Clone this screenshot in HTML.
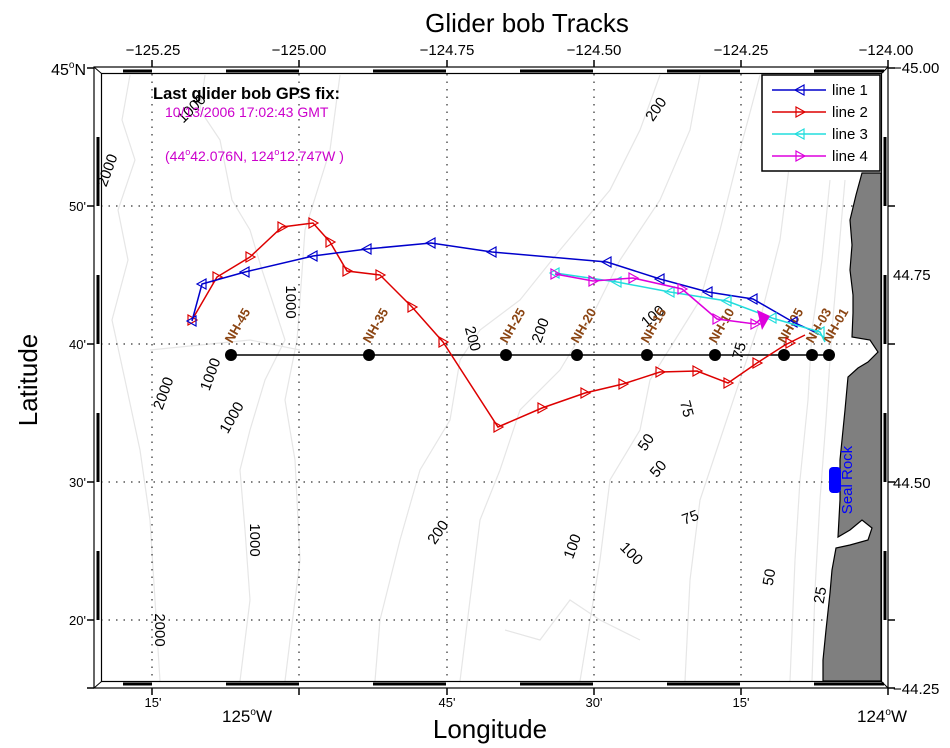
<!DOCTYPE html>
<html><head><meta charset="utf-8"><style>
html,body{margin:0;padding:0;background:#fff}
svg{display:block;font-family:"Liberation Sans",Arial,sans-serif}
</style></head><body>
<svg width="950" height="748" viewBox="0 0 950 748" xmlns="http://www.w3.org/2000/svg">
<rect width="950" height="748" fill="#fff"/>
<!-- contours -->
<g fill="none" stroke="#e6e6e6" stroke-width="1.2">
<path d="M130,75 L122,120 L135,160 L118,210 L128,260 L112,320 L125,380 L140,450 L150,520 L155,600 L160,681"/>
<path d="M205,75 L200,110 L220,140 L232,200 L250,230 L262,270 L272,300 L285,340 L265,380 L250,430 L240,470 L245,530 L250,600 L240,681"/>
<path d="M340,75 L330,150 L305,230 L300,300 L297,340 L285,400 L295,460 L300,560 L285,681"/>
<path d="M150,350 L200,345 L250,340 L300,350"/>
<path d="M660,75 L640,130 L610,190 L560,250 L520,300 L480,330 L460,360 L450,420 L420,470 L400,540 L380,620 L375,681"/>
<path d="M700,75 L690,130 L660,200 L620,260 L590,320 L560,370 L520,410 L500,470 L480,520 L470,600 L460,681"/>
<path d="M760,75 L740,150 L720,230 L700,300 L650,380 L640,430 L610,480 L600,560 L580,681"/>
<path d="M800,80 L790,160 L780,240 L760,320 L740,380 L720,440 L700,500 L690,580 L685,681"/>
<path d="M830,180 L822,260 L812,330 L808,400 L800,480 L795,560 L790,681"/>
<path d="M845,180 L838,260 L832,330 L826,420 L820,500 L815,590 L812,681"/>
<path d="M505,630 L540,640 L570,600 L600,620 L640,640"/>
</g>
<!-- grid -->
<g stroke="#000" stroke-width="1" stroke-dasharray="1.5,6">
<line x1="152" y1="74" x2="152" y2="681"/><line x1="299" y1="74" x2="299" y2="681"/>
<line x1="447" y1="74" x2="447" y2="681"/><line x1="594" y1="74" x2="594" y2="681"/>
<line x1="741" y1="74" x2="741" y2="681"/>
<line x1="101" y1="206" x2="881" y2="206"/><line x1="101" y1="344" x2="881" y2="344"/>
<line x1="101" y1="482" x2="881" y2="482"/><line x1="101" y1="620" x2="881" y2="620"/>
</g>
<!-- land -->
<path d="M862,173 L856,195 L850,220 L852,245 L850,270 L853,295 L853,313 L852,337 L870,340 L878,352 L868,362 L858,368 L848,377 L845,410 L842,440 L840,460 L840,500 L838,537 L850,530 L862,520 L872,528 L868,540 L850,545 L836,548 L832,570 L830,593 L826,630 L823,660 L823,681 L881,681 L881,173 Z" fill="#7f7f7f" stroke="#000" stroke-width="1.2"/>
<!-- contour labels -->
<g font-size="15" fill="#000">
<text transform="translate(112,172) rotate(-70)" text-anchor="middle">2000</text>
<text transform="translate(195,112) rotate(-45)" text-anchor="middle">1000</text>
<text transform="translate(660,112) rotate(-55)" text-anchor="middle">200</text>
<text transform="translate(286,302) rotate(90)" text-anchor="middle">1000</text>
<text transform="translate(168,395) rotate(-70)" text-anchor="middle">2000</text>
<text transform="translate(215,376) rotate(-70)" text-anchor="middle">1000</text>
<text transform="translate(236,420) rotate(-60)" text-anchor="middle">1000</text>
<text transform="translate(468,340) rotate(75)" text-anchor="middle">200</text>
<text transform="translate(545,332) rotate(-70)" text-anchor="middle">200</text>
<text transform="translate(656,320) rotate(-40)" text-anchor="middle">100</text>
<text transform="translate(744,352) rotate(-75)" text-anchor="middle">75</text>
<text transform="translate(682,410) rotate(75)" text-anchor="middle">75</text>
<text transform="translate(650,445) rotate(-55)" text-anchor="middle">50</text>
<text transform="translate(662,472) rotate(-50)" text-anchor="middle">50</text>
<text transform="translate(692,522) rotate(-20)" text-anchor="middle">75</text>
<text transform="translate(250,540) rotate(90)" text-anchor="middle">1000</text>
<text transform="translate(442,535) rotate(-55)" text-anchor="middle">200</text>
<text transform="translate(577,548) rotate(-70)" text-anchor="middle">100</text>
<text transform="translate(628,557) rotate(45)" text-anchor="middle">100</text>
<text transform="translate(774,578) rotate(-80)" text-anchor="middle">50</text>
<text transform="translate(825,596) rotate(-80)" text-anchor="middle">25</text>
<text transform="translate(155,630) rotate(90)" text-anchor="middle">2000</text>
</g>
<!-- NH line -->
<line x1="231" y1="355" x2="829" y2="355" stroke="#000" stroke-width="1.5"/>
<g fill="#000">
<circle cx="231" cy="355" r="6"/><circle cx="369" cy="355" r="6"/><circle cx="506" cy="355" r="6"/>
<circle cx="577" cy="355" r="6"/><circle cx="647" cy="355" r="6"/><circle cx="715" cy="355" r="6"/>
<circle cx="784" cy="355" r="6"/><circle cx="812" cy="355" r="6"/><circle cx="829" cy="355" r="6"/>
</g>
<g font-size="13" font-weight="bold" fill="#8b4513">
<text transform="translate(232,344) rotate(-60)">NH-45</text>
<text transform="translate(370,344) rotate(-60)">NH-35</text>
<text transform="translate(507,344) rotate(-60)">NH-25</text>
<text transform="translate(578,344) rotate(-60)">NH-20</text>
<text transform="translate(648,344) rotate(-60)">NH-15</text>
<text transform="translate(716,344) rotate(-60)">NH-10</text>
<text transform="translate(785,344) rotate(-60)">NH-05</text>
<text transform="translate(813,344) rotate(-60)">NH-03</text>
<text transform="translate(830,344) rotate(-60)">NH-01</text>
</g>
<!-- Seal Rock -->
<rect x="829" y="467" width="12" height="26" rx="4" fill="#0000ff"/>
<text transform="translate(852,480) rotate(-90)" text-anchor="middle" font-size="15" fill="#0000ff">Seal Rock</text>
<defs>
<path id="tl" d="M-5,0 L4,-5 L4,5 Z" fill="none" stroke-width="1.2"/>
<path id="tr" d="M5,0 L-4,-5 L-4,5 Z" fill="none" stroke-width="1.2"/>
</defs>
<!-- red line 2 -->
<g stroke="#dd0000" stroke-width="1.5" fill="none">
<polyline points="192,320 217,277 250,257 282,227 313,223 330,242 347,271 380,275 412,307 443,342 498,427 542,408 585,393 623,384 660,372 697,371 728,383 757,363 785,345 805,335"/>
</g>
<g stroke="#dd0000">
<use href="#tr" x="192" y="320"/><use href="#tr" x="217" y="277"/><use href="#tr" x="250" y="257"/><use href="#tr" x="282" y="227"/><use href="#tr" x="313" y="223"/><use href="#tr" x="330" y="242"/><use href="#tr" x="347" y="271"/><use href="#tr" x="380" y="275"/><use href="#tr" x="412" y="307"/><use href="#tr" x="443" y="342"/><use href="#tr" x="498" y="427"/><use href="#tr" x="542" y="408"/><use href="#tr" x="585" y="393"/><use href="#tr" x="623" y="384"/><use href="#tr" x="660" y="372"/><use href="#tr" x="697" y="371"/><use href="#tr" x="728" y="383"/><use href="#tr" x="757" y="363"/><use href="#tr" x="790" y="343"/>
</g>
<!-- blue line 1 -->
<g stroke="#0000cc" stroke-width="1.5" fill="none">
<polyline points="192,321 202,284 245,272 313,256 367,249 431,243 492,252 607,262 660,279 708,292 753,299 793,322 815,332"/>
</g>
<g stroke="#0000cc">
<use href="#tl" x="192" y="321"/><use href="#tl" x="202" y="284"/><use href="#tl" x="245" y="272"/><use href="#tl" x="313" y="256"/><use href="#tl" x="367" y="249"/><use href="#tl" x="431" y="243"/><use href="#tl" x="492" y="252"/><use href="#tl" x="607" y="262"/><use href="#tl" x="660" y="279"/><use href="#tl" x="708" y="292"/><use href="#tl" x="753" y="299"/><use href="#tl" x="793" y="322"/>
</g>
<!-- cyan line 3 -->
<g stroke="#22dddd" stroke-width="1.5" fill="none">
<polyline points="555,273 617,282 670,292 727,301 772,318 820,332 825,342"/>
</g>
<g stroke="#22dddd">
<use href="#tl" x="555" y="273"/><use href="#tl" x="617" y="282"/><use href="#tl" x="670" y="292"/><use href="#tl" x="727" y="301"/><use href="#tl" x="772" y="318"/><use href="#tl" x="820" y="332"/>
</g>
<!-- magenta line 4 -->
<g stroke="#dd00dd" stroke-width="1.5" fill="none">
<polyline points="555,274 593,281 633,278 682,289 717,319 755,324 763,317"/>
</g>
<g stroke="#dd00dd">
<use href="#tr" x="555" y="274"/><use href="#tr" x="593" y="281"/><use href="#tr" x="633" y="278"/><use href="#tr" x="682" y="289"/><use href="#tr" x="717" y="319"/><use href="#tr" x="755" y="324"/>
</g>
<path d="M757,310 L770,316 L762,330 Z" fill="#dd00dd"/>
<!-- top-left text -->
<text x="153" y="99" font-size="16.5" font-weight="bold" fill="#000">Last glider bob GPS fix:</text>
<text x="165" y="117" font-size="14" fill="#cc00cc">10/13/2006 17:02:43 GMT</text>
<text x="165" y="161" font-size="14" fill="#cc00cc">(44<tspan font-size="9" dy="-6">o</tspan><tspan dy="6">42.076N, 124</tspan><tspan font-size="9" dy="-6">o</tspan><tspan dy="6">12.747W )</tspan></text>
<!-- legend -->
<rect x="762" y="75" width="118" height="96" fill="#fff" stroke="#000" stroke-width="1.5"/>
<g stroke-width="1.5">
<line x1="772" y1="90" x2="826" y2="90" stroke="#0000cc"/><use href="#tl" x="800" y="90" stroke="#0000cc"/>
<line x1="772" y1="112" x2="826" y2="112" stroke="#dd0000"/><use href="#tr" x="800" y="112" stroke="#dd0000"/>
<line x1="772" y1="134" x2="826" y2="134" stroke="#22dddd"/><use href="#tl" x="800" y="134" stroke="#22dddd"/>
<line x1="772" y1="156" x2="826" y2="156" stroke="#dd00dd"/><use href="#tr" x="800" y="156" stroke="#dd00dd"/>
</g>
<g font-size="15" fill="#000">
<text x="832" y="95">line 1</text><text x="832" y="117">line 2</text><text x="832" y="139">line 3</text><text x="832" y="161">line 4</text>
</g>
<!-- frame -->
<g fill="none" stroke="#000">
<rect x="94" y="67" width="794" height="621" stroke-width="1.2"/>
<rect x="101.5" y="73.5" width="780" height="608" stroke-width="1.2"/>
<line x1="94" y1="67" x2="101.5" y2="73.5"/><line x1="888" y1="67" x2="881.5" y2="73.5"/>
<line x1="94" y1="688" x2="101.5" y2="681.5"/><line x1="888" y1="688" x2="881.5" y2="681.5"/>
</g>
<g stroke="#000" stroke-width="3">
<path d="M123,71 H152 M226,71 H299 M373,71 H446 M520,71 H593 M667,71 H740 M814,71 H884"/>
<path d="M123,684 H152 M226,684 H299 M373,684 H446 M520,684 H593 M667,684 H740 M814,684 H884"/>
<path d="M98,137 V206 M98,275 V344 M98,413 V482 M98,551 V620"/>
<path d="M885,137 V206 M885,275 V344 M885,413 V482 M885,551 V620"/>
</g>
<g stroke="#000" stroke-width="1.5">
<path d="M152,60 V67 M299,60 V67 M447,60 V67 M594,60 V67 M741,60 V67 M888,60 V67"/>
<path d="M152,688 V695 M299,688 V695 M447,688 V695 M594,688 V695 M741,688 V695 M888,688 V695"/>
<path d="M87,68 H94 M87,206 H94 M87,344 H94 M87,482 H94 M87,620 H94 M87,688 H94"/>
<path d="M888,68 H895 M888,206 H895 M888,344 H895 M888,482 H895 M888,620 H895 M888,688 H895"/>
</g>
<!-- tick labels -->
<g font-size="15" fill="#000" text-anchor="middle">
<text x="153" y="55">−125.25</text><text x="299" y="55">−125.00</text><text x="447" y="55">−124.75</text>
<text x="594" y="55">−124.50</text><text x="741" y="55">−124.25</text><text x="886" y="55">−124.00</text>
</g>
<g font-size="15" fill="#000">
<text x="893" y="73">−45.00</text><text x="893" y="280">44.75</text><text x="893" y="488">44.50</text><text x="893" y="694">−44.25</text>
</g>
<g font-size="13" fill="#000" text-anchor="end">
<text x="86" y="75" font-size="16">45<tspan font-size="10" dy="-7">o</tspan><tspan dy="7">N</tspan></text>
<text x="86" y="211">50'</text><text x="86" y="349">40'</text><text x="86" y="487">30'</text><text x="86" y="625">20'</text>
</g>
<g font-size="13" fill="#000" text-anchor="middle">
<text x="153" y="707">15'</text><text x="447" y="707">45'</text><text x="594" y="707">30'</text><text x="741" y="707">15'</text>
</g>
<g font-size="17" fill="#000">
<text x="222" y="722">125<tspan font-size="10" dy="-7">o</tspan><tspan dy="7">W</tspan></text>
<text x="857" y="722">124<tspan font-size="10" dy="-7">o</tspan><tspan dy="7">W</tspan></text>
</g>
<!-- titles -->
<text x="527" y="32" font-size="26" text-anchor="middle" fill="#000">Glider bob Tracks</text>
<text x="490" y="738" font-size="26" text-anchor="middle" fill="#000">Longitude</text>
<text transform="translate(37,380) rotate(-90)" font-size="26" text-anchor="middle" fill="#000">Latitude</text>
</svg>
</body></html>
